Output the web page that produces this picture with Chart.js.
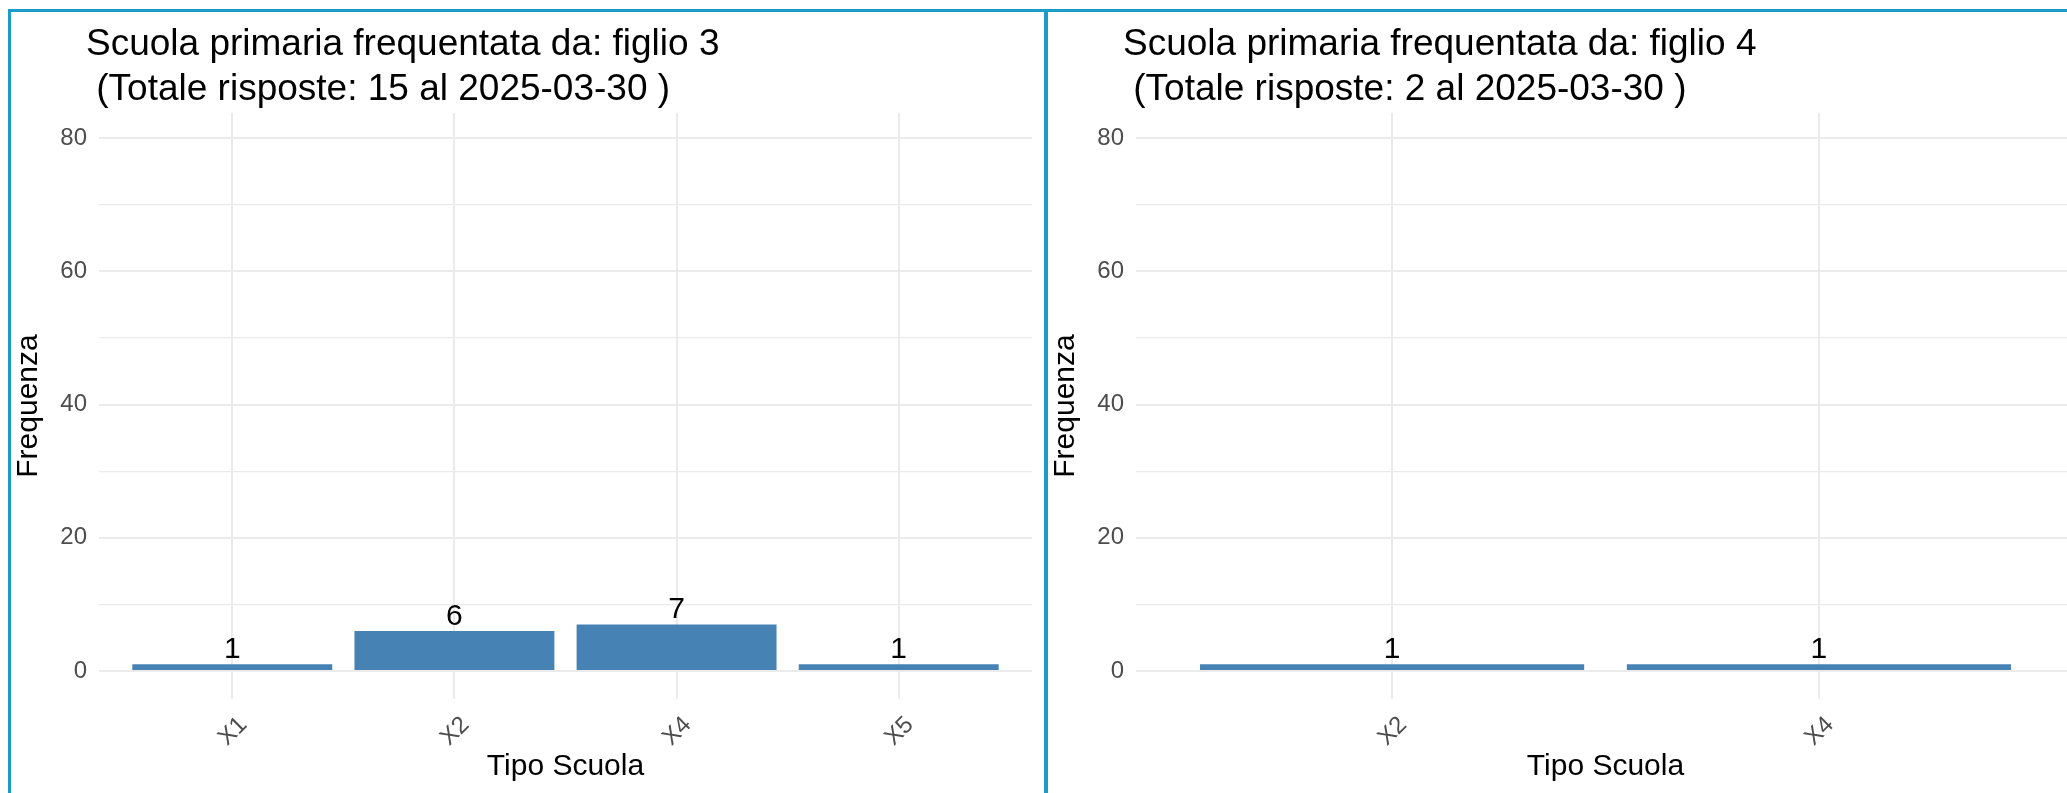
<!DOCTYPE html>
<html>
<head>
<meta charset="utf-8">
<script src="https://cdn.jsdelivr.net/npm/chart.js@4"></script>
<style>
  html, body { margin: 0; padding: 0; background: #fff; }
  #wrap { position: relative; width: 2067px; height: 793px; overflow: hidden; background: #fff; }
  canvas { position: absolute; }
  .line { position: absolute; background: #1c9bcb; }
</style>
</head>
<body>
<div id="wrap">
  <canvas id="chart3" width="1033" height="781" style="left:11px;top:12px"></canvas>
  <canvas id="chart4" width="1037" height="781" style="left:1048px;top:12px"></canvas>
  <div class="line" style="left:8px;top:9px;width:2059px;height:3px"></div>
  <div class="line" style="left:8px;top:9px;width:3px;height:784px"></div>
  <div class="line" style="left:1044px;top:9px;width:4px;height:784px"></div>
</div>
<script>
// dati
const categorie3 = ['X1', 'X2', 'X4', 'X5'];
const frequenze3 = [1, 6, 7, 1];
const titolo3 = ['Scuola primaria frequentata da: figlio 3', ' (Totale risposte: 15 al 2025-03-30 )'];

const categorie4 = ['X2', 'X4'];
const frequenze4 = [1, 1];
const titolo4 = ['Scuola primaria frequentata da: figlio 4', ' (Totale risposte: 2 al 2025-03-30 )'];

// griglia asse y: principali con etichetta, secondarie senza
const yTicks = [0, 20, 40, 60, 80];
const yGriglia = [0, 10, 20, 30, 40, 50, 60, 70, 80];

const FONT = '"Liberation Sans", Arial, sans-serif';
Chart.defaults.font.family = FONT;

// etichette sopra le barre
const barLabels = {
  id: 'barLabels',
  afterDatasetsDraw(chart) {
    const ctx = chart.ctx;
    const ds = chart.data.datasets[0];
    ctx.save();
    ctx.font = '30px ' + FONT;
    ctx.fillStyle = '#000';
    ctx.textAlign = 'center';
    ctx.textBaseline = 'alphabetic';
    chart.getDatasetMeta(0).data.forEach((bar, i) => {
      ctx.fillText(ds.data[i].y, bar.x, bar.y - 6);
    });
    ctx.restore();
  }
};

// titolo su due righe
const panelTitle = {
  id: 'panelTitle',
  afterDraw(chart, args, opts) {
    const ctx = chart.ctx;
    ctx.save();
    ctx.font = '37px ' + FONT;
    ctx.fillStyle = '#000';
    ctx.textAlign = 'left';
    ctx.textBaseline = 'alphabetic';
    opts.lines.forEach((t, i) => ctx.fillText(t, chart.chartArea.left - 13, 43 + i * 45));
    ctx.restore();
  }
};

function makeChart(id, categorie, valori, titolo, padRight) {
  const n = categorie.length;
  new Chart(document.getElementById(id), {
    type: 'bar',
    data: {
      datasets: [{
        data: categorie.map((c, i) => ({ x: i + 1, y: valori[i] })),
        backgroundColor: '#4682B4',
        borderWidth: 0,
        barPercentage: 0.9,
        categoryPercentage: 1
      }]
    },
    options: {
      responsive: false,
      animation: false,
      layout: { padding: { top: 101, right: padRight, left: 0, bottom: 0 } },
      plugins: {
        legend: { display: false },
        tooltip: { enabled: false },
        panelTitle: { lines: titolo }
      },
      scales: {
        x: {
          type: 'linear',
          offset: false,
          min: 0.4,
          max: n + 0.6,
          afterBuildTicks: ax => { ax.ticks = categorie.map((c, i) => ({ value: i + 1 })); },
          afterFit: ax => { ax.height = 94; },
          ticks: {
            minRotation: 45,
            maxRotation: 45,
            padding: 12,
            labelOffset: 11,
            color: '#4d4d4d',
            font: { size: 24 },
            callback: v => categorie[v - 1]
          },
          grid: { offset: false, color: '#ebebeb', lineWidth: 2, drawTicks: false },
          border: { display: false },
          title: { display: true, text: 'Tipo Scuola', color: '#000', font: { size: 30 }, padding: { top: 0, bottom: 8 } }
        },
        y: {
          min: -4.2,
          max: 83.8,
          afterBuildTicks: ax => { ax.ticks = yGriglia.map(v => ({ value: v })); },
          afterFit: ax => { ax.width = 88; },
          ticks: {
            padding: 12,
            color: '#4d4d4d',
            font: { size: 24 },
            callback: v => (yTicks.includes(v) ? v : '')
          },
          grid: {
            color: '#ebebeb',
            lineWidth: c => (yTicks.includes(c.tick.value) ? 2 : 1.2),
            drawTicks: false
          },
          border: { display: false },
          title: { display: true, text: 'Frequenza', color: '#000', font: { size: 30 }, padding: { top: 0, bottom: 2 } }
        }
      }
    },
    plugins: [barLabels, panelTitle]
  });
}

makeChart('chart3', categorie3, frequenze3, titolo3, 12);
makeChart('chart4', categorie4, frequenze4, titolo4, 10);
</script>
</body>
</html>
